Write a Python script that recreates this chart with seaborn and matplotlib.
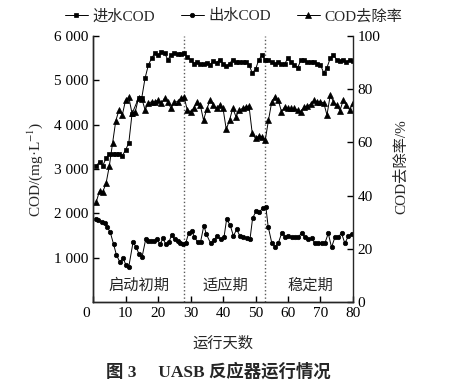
import matplotlib
matplotlib.use("Agg")
import matplotlib.pyplot as plt
import matplotlib.transforms as mtransforms
from matplotlib.ticker import FixedLocator, FuncFormatter
import seaborn as sns

# ---------------- data ----------------
days_in = [1, 2, 3, 4, 5, 6, 7, 8, 9, 10, 11, 12, 14, 15, 16, 17, 18, 19, 20,
           21, 22, 23, 24, 25, 26, 27, 28, 29, 30, 31, 32, 33, 34, 35, 36, 37, 38,
           39, 40, 41, 42, 43, 44, 45, 46, 47, 48, 49, 50, 51, 52, 53, 54, 55, 56,
           57, 58, 59, 60, 61, 62, 63, 64, 65, 66, 67, 68, 69, 70, 71, 72, 73, 74,
           75, 76, 77, 78, 79, 80]
influent = [3070, 3170, 3080, 3240, 3340, 3340, 3350, 3350, 3300, 3430, 3590, 4250,
            4600, 4610, 5050, 5340, 5500, 5610, 5570, 5650, 5620, 5470, 5570, 5620,
            5590, 5590, 5610, 5530, 5470, 5380, 5420, 5380, 5370, 5400, 5350, 5440,
            5400, 5470, 5380, 5320, 5380, 5470, 5420, 5420, 5420, 5420, 5350, 5170,
            5250, 5460, 5570, 5460, 5460, 5420, 5380, 5420, 5380, 5380, 5500, 5420,
            5350, 5290, 5460, 5470, 5420, 5420, 5420, 5380, 5350, 5170, 5290, 5500,
            5570, 5470, 5440, 5460, 5420, 5460, 5440]

days_out = [0.8, 1.6, 2.6, 3.6, 4.4, 5.3, 6.3, 7.2, 8.2, 9.3, 10.1, 11.0,
            12.3, 13.2, 14.2, 15.1, 16.2, 17.0, 17.9, 18.8, 19.7, 20.6, 21.5, 22.4,
            23.3, 24.2, 25.1, 26.0, 26.9, 27.7, 28.5, 29.4, 30.3, 31.2, 32.2, 33.1,
            34.1, 34.9,
            36.2, 37.2, 38.2, 39.3, 40.3, 41.1, 42.2, 43.2, 44.2, 45.2, 46.2, 47.3,
            48.3, 49.1, 50.2, 51.2, 52.2, 53.2, 53.9, 55.0, 56.0, 57.0, 58.1, 59.1,
            60.1, 61.1, 62.2, 63.2, 64.2, 65.2, 66.3, 67.3, 68.3, 69.3, 70.4, 71.4,
            72.4, 73.4, 74.5, 75.5, 76.5, 77.5, 78.6, 79.6]
effluent = [1872, 1850, 1812, 1775, 1684, 1572, 1308, 1060, 910, 985, 835, 797,
            1346, 1248, 1075, 1023, 1414, 1376, 1376, 1376, 1414, 1301, 1436, 1301,
            1346, 1511, 1414, 1376, 1323, 1301, 1323, 1549, 1602, 1474, 1346, 1361,
            1722, 1526,
            1324, 1399, 1489, 1414, 1459, 1865, 1737, 1489, 1640, 1489, 1474, 1436,
            1414, 1888, 2060, 2037, 2113, 2136, 1699, 1338, 1248, 1324, 1564, 1474,
            1489, 1459, 1459, 1459, 1564, 1459, 1414, 1436, 1324, 1338, 1324, 1338,
            1549, 1233, 1474, 1474, 1549, 1324, 1489, 1534]

days_rate = list(range(1, 81))
removal = [37.7, 41.8, 41.5, 44.6, 51.1, 59.7, 68.2, 72.2, 70.3, 75.9, 77.0, 70.9,
           71.6, 76.7, 76.5, 72.3, 74.7, 75.3, 75.3, 75.9, 74.7, 76.6, 75.3, 72.8,
           75.3, 75.3, 76.6, 77.2, 72.2, 71.6, 72.8, 75.3, 74.1, 68.4, 72.5, 75.9,
           74.1, 72.8, 74.1, 72.8, 64.9, 68.4, 72.8, 69.7, 72.2, 72.8, 73.4, 73.7,
           63.4, 61.5, 62.4, 62.2, 60.9, 68.4, 75.3, 77.2, 75.9, 71.6, 73.4, 72.8,
           72.8, 72.8, 72.2, 71.6, 73.4, 73.7, 74.4, 75.9, 75.3, 75.3, 74.9, 70.3,
           77.8, 75.3, 74.1, 72.0, 75.9, 74.1, 72.2, 75.0]

phase_bounds = [28, 53]
phase_names = ["启动初期", "适应期", "稳定期"]
phase_centers = [14, 40.8, 67]

x_ticks = [0, 10, 20, 30, 40, 50, 60, 70, 80]
left_ticks = [1000, 2000, 3000, 4000, 5000, 6000]
right_ticks = [0, 20, 40, 60, 80, 100]

# ---------------- style ----------------
sns.set_style("ticks")
plt.rcParams["font.family"] = ["Liberation Serif", "Noto Sans CJK SC"]
plt.rcParams["mathtext.fontset"] = "stix"
plt.rcParams["axes.unicode_minus"] = False
plt.rcParams["axes.linewidth"] = 1.0

fig = plt.figure(figsize=(4.7, 3.84), dpi=100)
ax = fig.add_axes([0.198, 0.2135, 0.553, 0.6925])
ax2 = ax.twinx()

sns.lineplot(x=days_in, y=influent, ax=ax, color="black", linewidth=0.7,
             marker="s", markersize=3.3, markeredgewidth=0.5, markeredgecolor="black",
             label="进水COD", legend=False)
sns.lineplot(x=days_out, y=effluent, ax=ax, color="black", linewidth=0.7,
             marker="o", markersize=3.2, markeredgewidth=0.5, markeredgecolor="black",
             label="出水COD", legend=False)
sns.lineplot(x=days_rate, y=removal, ax=ax2, color="black", linewidth=0.7,
             marker="^", markersize=4.0, markeredgewidth=0.5, markeredgecolor="black",
             label="COD去除率", legend=False)

for b in phase_bounds:
    ax.axvline(b, color="0.35", linestyle=":", linewidth=1.0, zorder=1)

for name, cx in zip(phase_names, phase_centers):
    ax.text(cx, 370, name, ha="center", va="center", fontsize=11)

ax.set_xlim(0, 80)
ax.set_ylim(0, 6000)
ax2.set_ylim(0, 100)
ax.xaxis.set_major_locator(FixedLocator(x_ticks))
ax.yaxis.set_major_locator(FixedLocator(left_ticks))
ax.yaxis.set_major_formatter(FuncFormatter(lambda v, p: f"{int(v):,}".replace(",", " ")))
ax2.yaxis.set_major_locator(FixedLocator(right_ticks))

for a in (ax, ax2):
    a.spines["top"].set_visible(False)
    a.tick_params(direction="in", length=4, width=1.0, labelsize=11, colors="black")
ax.spines["right"].set_visible(False)

ax.set_xlabel("运行天数", fontsize=11, labelpad=12)
ax.set_ylabel(r"COD/(mg·L$^{-1}$)", fontsize=11)
ax.yaxis.set_label_coords(-0.185, 0.50)
ax2.set_ylabel("COD去除率/%", fontsize=11)
ax2.yaxis.set_label_coords(1.155, 0.51)

# shift the "0" x tick label slightly left as in the reference
t0 = ax.xaxis.get_major_ticks()[0].label1
t0.set_transform(t0.get_transform() + mtransforms.ScaledTranslation(-0.07, 0, fig.dpi_scale_trans))

h1, l1 = ax.get_legend_handles_labels()
h2, l2 = ax2.get_legend_handles_labels()
fig.legend(h1 + h2, l1 + l2, loc="upper center", bbox_to_anchor=(0.497, 1.012),
           ncol=3, frameon=False, fontsize=11, handlelength=1.5,
           handletextpad=0.3, columnspacing=1.7)

fig.text(0.465, 1 - 372 / 384, "图 3　 UASB 反应器运行情况", ha="center", va="center",
         fontsize=12.5, fontweight="bold")

fig.savefig("out.png", dpi=100)
